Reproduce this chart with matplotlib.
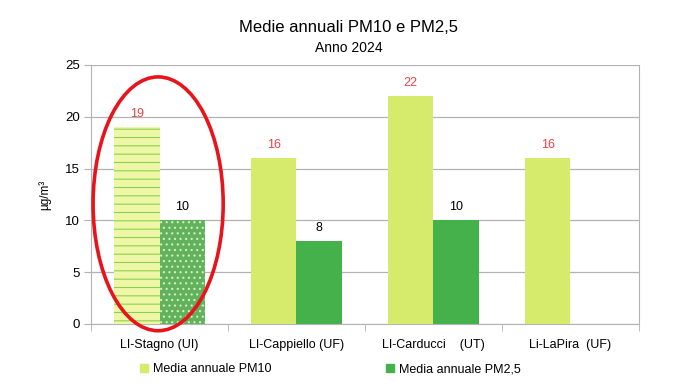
import matplotlib
matplotlib.use("Agg")
import matplotlib.pyplot as plt
from matplotlib.patches import Ellipse, Patch
import numpy as np

plt.rcParams['font.family'] = ['Liberation Sans', 'DejaVu Sans']
plt.rcParams['hatch.linewidth'] = 0.8

stations = ['LI-Stagno (UI)', 'LI-Cappiello (UF)', 'LI-Carducci    (UT)', 'Li-LaPira  (UF)']
pm10 = [19, 16, 22, 16]
pm25 = [10, 8, 10, None]

c10 = '#d6ea6c'
c25 = '#45b14b'

fig = plt.figure(figsize=(6.97, 3.92), dpi=100)
ax = fig.add_axes([0.1306, 0.1735, 0.786, 0.6607])

x = np.arange(len(stations))
w = 0.333

for i in range(len(stations)):
    if i == 0:
        ax.bar(x[i] - w / 2, pm10[i], w, color='#eef7a8', edgecolor='#8fcf50',
               hatch='--', linewidth=0, zorder=3)
    else:
        ax.bar(x[i] - w / 2, pm10[i], w, color=c10, linewidth=0, zorder=3)
    ax.text(x[i] - w / 2, pm10[i] + 0.7, str(pm10[i]), color='#e8434a',
            ha='center', va='bottom', fontsize=9)
    if pm25[i] is not None:
        if i == 0:
            ax.bar(x[i] + w / 2, pm25[i], w, color='#62b25c', edgecolor='#d5efc8',
                   hatch='...', linewidth=0, zorder=3)
        else:
            ax.bar(x[i] + w / 2, pm25[i], w, color=c25, linewidth=0, zorder=3)
        ax.text(x[i] + w / 2, pm25[i] + 0.7, str(pm25[i]), color='black',
                ha='center', va='bottom', fontsize=9)

ax.set_xlim(-0.5, 3.5)
ax.set_ylim(0, 25)
ax.set_yticks([0, 5, 10, 15, 20, 25])
ax.yaxis.grid(True, color='#b3b3b3', linewidth=0.9, zorder=0)
ax.set_axisbelow(True)

ax.set_xticks(x)
ax.set_xticklabels(stations, fontsize=9)
ax.set_xticks(np.arange(-0.5, 4, 1), minor=True)
ax.tick_params(axis='x', which='major', length=0, pad=11)
ax.tick_params(axis='x', which='minor', length=5, color='#b3b3b3')
ax.tick_params(axis='y', length=5, color='#b3b3b3', labelsize=9.5, pad=3)

for s in ['left', 'right', 'bottom']:
    ax.spines[s].set_color('#b3b3b3')
ax.spines['top'].set_visible(False)

ax.set_ylabel('µg/m³', fontsize=8.5, labelpad=10)

ell = Ellipse((-0.01, 11.6), 0.95, 24.5, fill=False, edgecolor='#e8141b',
              linewidth=2.6, clip_on=False, zorder=5)
ax.add_patch(ell)

fig.text(0.5, 0.93, 'Medie annuali PM10 e PM2,5', ha='center', va='center', fontsize=12)
fig.text(0.5, 0.877, 'Anno 2024', ha='center', va='center', fontsize=10)

handles = [Patch(color=c10, label='Media annuale PM10'),
           Patch(color=c25, label='Media annuale PM2,5')]
fig.legend(handles=handles, loc='center', bbox_to_anchor=(0.474, 0.058), ncol=2,
           frameon=False, fontsize=9, handlelength=0.6, handleheight=0.6,
           handletextpad=0.4, columnspacing=9.2)

fig.savefig('out.png', dpi=100)
